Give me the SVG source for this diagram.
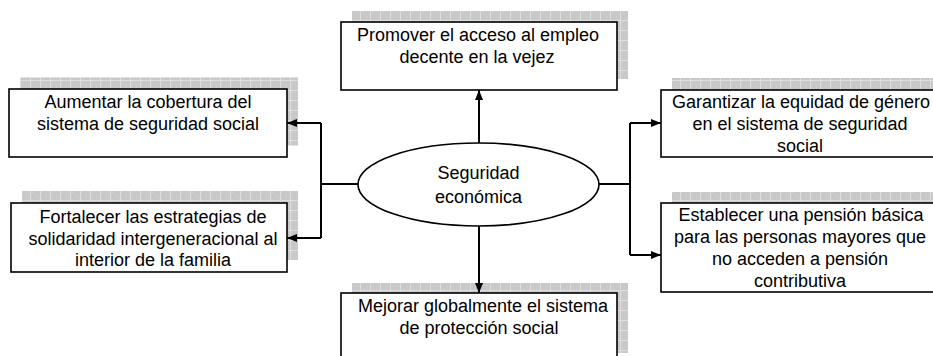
<svg xmlns="http://www.w3.org/2000/svg" width="933" height="356" viewBox="0 0 933 356">
<style>
.box{fill:#fff;stroke:#000;stroke-width:1.6}
.shadow{fill:url(#grid)}
.t{font-family:"Liberation Sans",Arial,sans-serif;font-size:18px;fill:#000;text-anchor:middle}
.c{fill:none;stroke:#000;stroke-width:2}
</style>
<defs>
<pattern id="grid" width="10" height="10" patternUnits="userSpaceOnUse">
<rect width="10" height="10" fill="#c8c8c8"/>
<rect x="2" y="2" width="1" height="1" fill="#d6d6d6"/>
<rect x="6" y="6" width="1" height="1" fill="#d6d6d6"/>
<rect x="0" y="0" width="10" height="1" fill="#dedede"/>
<rect x="0" y="0" width="1" height="10" fill="#dedede"/>
</pattern>
<marker id="ah" markerUnits="userSpaceOnUse" markerWidth="10" markerHeight="8" refX="10" refY="4" orient="auto">
<path d="M0,0 L10,4 L0,8 z" fill="#000"/>
</marker>
</defs>
<g id="node-top">
<rect class="shadow" x="352" y="11" width="276" height="68"/>
<rect class="box" x="341" y="22" width="276" height="68"/>
<text class="t" x="478" y="41">Promover el acceso al empleo</text>
<text class="t" x="477" y="63">decente en la vejez</text>
</g>
<g id="node-left1">
<rect class="shadow" x="20" y="77.5" width="278" height="68"/>
<rect class="box" x="9" y="89" width="278" height="68"/>
<text class="t" x="148" y="108">Aumentar la cobertura del</text>
<text class="t" x="148" y="130">sistema de seguridad social</text>
</g>
<g id="node-left2">
<rect class="shadow" x="22" y="191" width="276" height="69"/>
<rect class="box" x="11" y="203" width="276" height="69"/>
<text class="t" x="153" y="223">Fortalecer las estrategias de</text>
<text class="t" x="153" y="244.5">solidaridad intergeneracional al</text>
<text class="t" x="153" y="266">interior de la familia</text>
</g>
<g id="node-right1">
<rect class="shadow" x="672" y="78" width="276" height="67"/>
<rect class="box" x="661" y="90" width="276" height="67"/>
<text class="t" x="801" y="108">Garantizar la equidad de género</text>
<text class="t" x="800" y="130">en el sistema de seguridad</text>
<text class="t" x="800" y="152">social</text>
</g>
<g id="node-right2">
<rect class="shadow" x="672" y="192" width="276" height="89"/>
<rect class="box" x="661" y="203" width="276" height="89"/>
<text class="t" x="801" y="221">Establecer una pensión básica</text>
<text class="t" x="800" y="243">para las personas mayores que</text>
<text class="t" x="800" y="265">no acceden a pensión</text>
<text class="t" x="800" y="287">contributiva</text>
</g>
<g id="node-bottom">
<rect class="shadow" x="352" y="283" width="276" height="70"/>
<rect class="box" x="341" y="293" width="276" height="70"/>
<text class="t" x="483" y="312">Mejorar globalmente el sistema</text>
<text class="t" x="479" y="334">de protección social</text>
</g>
<g id="node-center">
<ellipse cx="478.5" cy="184.5" rx="120.5" ry="41.5" fill="#fff" stroke="#000" stroke-width="1.6"/>
<text class="t" x="478.5" y="179">Seguridad</text>
<text class="t" x="478.5" y="202.5">económica</text>
</g>
<g id="connectors">
<path class="c" d="M358 184 H321 M321 123 V238"/>
<path class="c" d="M321 123 H287" marker-end="url(#ah)"/>
<path class="c" d="M321 238 H287" marker-end="url(#ah)"/>
<path class="c" d="M599 184 H630 M630 123 V255"/>
<path class="c" d="M630 123 H661" marker-end="url(#ah)"/>
<path class="c" d="M630 255 H661" marker-end="url(#ah)"/>
<path class="c" d="M479 143 V90" marker-end="url(#ah)"/>
<path class="c" d="M479 226 V293" marker-end="url(#ah)"/>
</g>
</svg>
